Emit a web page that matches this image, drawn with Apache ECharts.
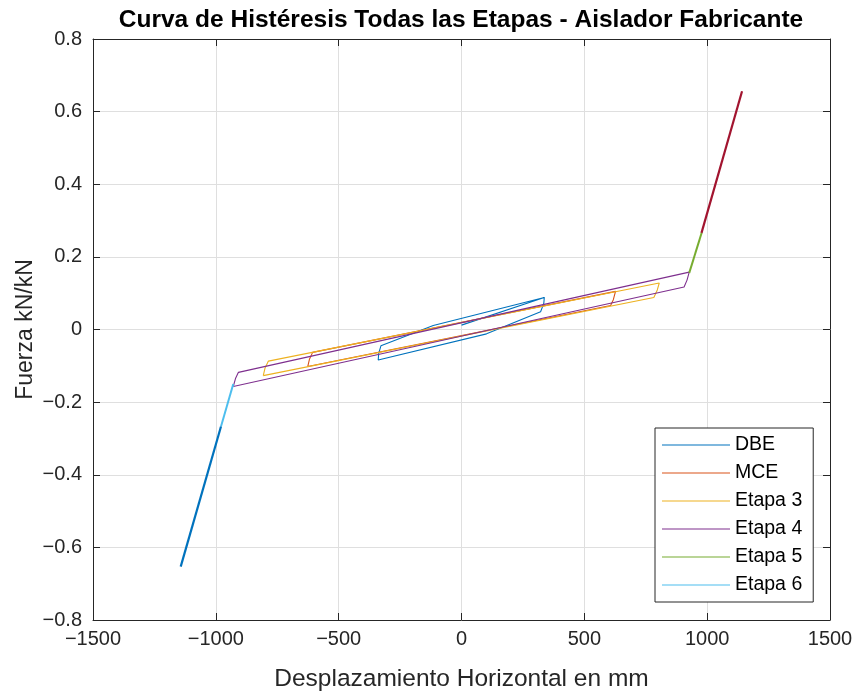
<!DOCTYPE html>
<html><head><meta charset="utf-8">
<script src="https://cdn.jsdelivr.net/npm/echarts@6/dist/echarts.min.js"></script>
<style>html,body{margin:0;padding:0;background:#fff}#c{width:856px;height:692px}</style>
</head><body><div id="c"></div>
<script>
// ---- data ----
const titleText = 'Curva de Histéresis Todas las Etapas - Aislador Fabricante';
const xName = 'Desplazamiento Horizontal en mm';
const yName = 'Fuerza kN/kN';
const xTicks = [-1500, -1000, -500, 0, 500, 1000, 1500];
const yTicks = [-0.8, -0.6, -0.4, -0.2, 0, 0.2, 0.4, 0.6, 0.8];
const legendNames = ['DBE', 'MCE', 'Etapa 3', 'Etapa 4', 'Etapa 5', 'Etapa 6'];

const dbe = [[0, 0.012], [337, 0.088], [335, 0.072], [322, 0.049], [102, -0.012], [-339, -0.084],
             [-337, -0.066], [-328, -0.045], [-115, 0.011], [337, 0.088]];
const mce = [[-626, -0.102], [-619, -0.082], [-606, -0.063], [627, 0.105], [618, 0.082], [607, 0.066], [-626, -0.102]];
const etapa3 = [[-807, -0.127], [-800, -0.107], [-786, -0.087], [805, 0.128], [797, 0.109], [783, 0.088], [-807, -0.127]];
const etapa4 = [[-929, -0.157], [-920, -0.135], [-908, -0.118], [927, 0.158], [918, 0.136], [906, 0.117], [-929, -0.157]];
const etapa5 = [[927, 0.156], [978, 0.267]];
const etapa6 = [[-929, -0.150], [-979, -0.267]];
const extraPos = [[977, 0.266], [1142, 0.656]];
const extraNeg = [[-979, -0.267], [-1143, -0.653]];

const colors = ['#0072BD', '#D95319', '#EDB120', '#7E2F8E', '#77AC30', '#4DBEEE', '#A2142F', '#0072BD'];
const allData = [dbe, mce, etapa3, etapa4, etapa5, etapa6, extraPos, extraNeg];
const allNames = legendNames.concat(['_s7', '_s8']);
const widths = [1.1, 1.1, 1.1, 1.1, 2, 2, 2.2, 2.2];

const FONT = 'Liberation Sans, Arial, Helvetica, sans-serif';
const AX = '#262626';
const fmt = v => (v === 0 ? '0' : String(Math.abs(v) < 10 ? +v.toFixed(1) : v)).replace('-', '\u2212');

const chart = echarts.init(document.getElementById('c'), null, {renderer: 'canvas'});
const common = {
  axisLine: {show: true, onZero: false, lineStyle: {color: AX, width: 1}},
  axisTick: {show: true, inside: true, length: 7, lineStyle: {color: AX, width: 1}},
};
chart.setOption({
  backgroundColor: '#fff',
  animation: false,
  graphic: [{type: 'text', x: 461, y: 20, style: {text: titleText, font: 'bold 24.5px ' + FONT,
    fill: '#000', textAlign: 'center', textVerticalAlign: 'middle'}}],
  grid: {left: 93, right: 26, top: 39, bottom: 72, show: false, containLabel: false, outerBoundsMode: 'none'},
  legend: {
    data: legendNames, orient: 'vertical', left: 655, top: 428, icon: 'rect', itemWidth: 68, itemHeight: 1,
    itemGap: 0, padding: [3, 11, 3, 7], borderColor: AX, borderWidth: 1, backgroundColor: '#fff',
    textStyle: {fontFamily: FONT, fontSize: 19.5, color: '#000', lineHeight: 28}, selectedMode: false
  },
  xAxis: [
    Object.assign({type: 'value', min: xTicks[0], max: xTicks[xTicks.length - 1], interval: 500, position: 'bottom',
      name: xName, nameLocation: 'middle', nameGap: 47, nameMoveOverlap: false,
      nameTextStyle: {fontFamily: FONT, fontSize: 24.5, color: AX},
      axisLabel: {fontFamily: FONT, fontSize: 20, color: AX, margin: 9, formatter: fmt},
      splitLine: {show: true, lineStyle: {color: '#dfdfdf', width: 1}}}, common),
    Object.assign({type: 'value', min: xTicks[0], max: xTicks[xTicks.length - 1], interval: 500, position: 'top',
      axisLabel: {show: false}, splitLine: {show: false}}, common)
  ],
  yAxis: [
    Object.assign({type: 'value', min: yTicks[0], max: yTicks[yTicks.length - 1], interval: 0.2, position: 'left',
      name: yName, nameLocation: 'middle', nameGap: 56, nameRotate: 90, nameMoveOverlap: false,
      nameTextStyle: {fontFamily: FONT, fontSize: 23, color: AX},
      axisLabel: {fontFamily: FONT, fontSize: 20, color: AX, margin: 11, formatter: fmt},
      splitLine: {show: true, lineStyle: {color: '#dfdfdf', width: 1}}}, common),
    Object.assign({type: 'value', min: yTicks[0], max: yTicks[yTicks.length - 1], interval: 0.2, position: 'right',
      axisLabel: {show: false}, splitLine: {show: false}}, common)
  ],
  series: allData.map((d, i) => ({
    name: allNames[i], type: 'line', data: d, showSymbol: false, symbol: 'none',
    lineStyle: {color: colors[i], width: widths[i]}, itemStyle: {color: colors[i]},
    xAxisIndex: 0, yAxisIndex: 0, z: 2 + i
  }))
});
</script></body></html>
